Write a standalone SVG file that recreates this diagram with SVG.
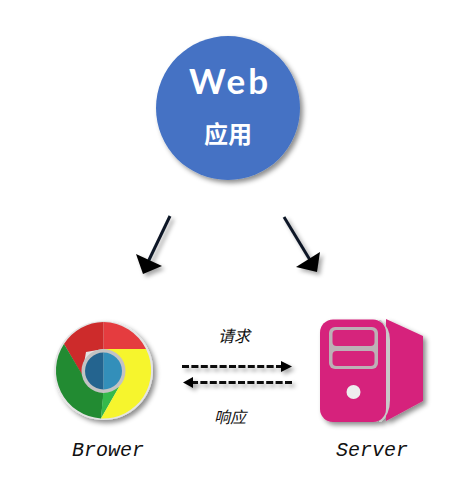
<svg xmlns="http://www.w3.org/2000/svg" width="467" height="494" viewBox="0 0 467 494">
<style>
.arrow{fill:none;stroke:#111827;stroke-width:3}
.dash{fill:none;stroke:#0b0b0b;stroke-width:3;stroke-dasharray:7 2.4}
.head{fill:#050505}
.mono{font-family:"Liberation Mono",monospace;font-style:italic;font-size:20px;fill:#111}
.hand{font-family:"Noto Sans CJK SC",sans-serif;font-style:italic;font-size:16px;fill:#111}
</style>
<defs>
<filter id="sh" x="-20%" y="-20%" width="150%" height="150%"><feDropShadow dx="3" dy="3" stdDeviation="2.5" flood-color="#000" flood-opacity=".45"/></filter>
<filter id="sh2" x="-30%" y="-30%" width="170%" height="170%"><feDropShadow dx="3" dy="3" stdDeviation="2" flood-color="#000" flood-opacity=".35"/></filter>
</defs>
<rect width="467" height="494" fill="#fff"/>
<g id="web">
<circle cx="228" cy="108" r="72" fill="#4472c4" filter="url(#sh)"/>
<text x="230" y="94" text-anchor="middle" font-family="Lato,sans-serif" font-weight="700" font-size="35" letter-spacing="3" fill="#fff">Web</text>
<text x="228" y="143" text-anchor="middle" font-family="'Noto Sans CJK SC',sans-serif" font-weight="700" font-size="24" fill="#fff">应用</text>
</g>
<g id="connectors">
<g filter="url(#sh2)">
<path class="arrow" d="M170 216L148 262"/>
<path class="head" d="M136 254L162 266L143 274Z"/>
<path class="arrow" d="M284 217L310 260"/>
<path class="head" d="M320 252L296 267L317 272Z"/>
</g>
<g filter="url(#sh2)">
<path class="dash" d="M182 366.500H282"/>
<path class="head" d="M281 361L292 366.500L281 372Z"/>
<path class="dash" d="M292 382.500H192"/>
<path class="head" d="M193 377L183 382.500L193 388Z"/>
</g>
</g>
<g id="browser">
<circle cx="103.500" cy="370.500" r="49.500" fill="#e4e4e4" filter="url(#sh)"/>
<path d="M103.500 322A48 48 0 0 1 146 349H103.500Z" fill="#e53c3f"/>
<path d="M103.500 322V349L86 352 82 375 64 344A48 48 0 0 1 103.500 322Z" fill="#cd2b2b"/>
<path d="M64 344L83 376 103.500 393 101 418.500A48 48 0 0 1 64 344Z" fill="#228b32"/>
<path d="M103.500 390L119 387 101 418.500Z" fill="#35b94b"/>
<path d="M103.500 349H146A48 48 0 0 1 101 418.500L119 387 125 371Z" fill="#f6f52d"/>
<circle cx="103.500" cy="371" r="22" fill="#c3c3c3"/>
<path d="M103.500 352.500A18.500 18.500 0 0 0 103.500 389.500Z" fill="#24648f"/>
<path d="M103.500 352.500A18.500 18.500 0 0 1 103.500 389.500Z" fill="#338fba"/>
<text class="mono" x="108" y="456" text-anchor="middle">Brower</text>
</g>
<g id="request">
<text class="hand" x="234" y="342" text-anchor="middle">请求</text>
</g>
<g id="response">
<text class="hand" x="230" y="423" text-anchor="middle">响应</text>
</g>
<g id="server">
<g filter="url(#sh)">
<path d="M386 319L423 336V401L386 421Z" fill="#d6247c"/>
<path d="M379 320H381Q390 328 390 340V400Q390 414 381 422H379Z" fill="#c9c9c9"/>
<rect x="320" y="319.500" width="66" height="102.500" rx="13" fill="#d6247c"/>
</g>
<rect x="329" y="327" width="49" height="42" rx="6" fill="#bdb0b6"/>
<rect x="332.500" y="330" width="42" height="16" rx="4" fill="#d6247c"/>
<rect x="332.500" y="351" width="42" height="15" rx="4" fill="#d6247c"/>
<circle cx="353.500" cy="392" r="7" fill="#eee"/>
<text class="mono" x="372" y="456" text-anchor="middle">Server</text>
</g>
</svg>
